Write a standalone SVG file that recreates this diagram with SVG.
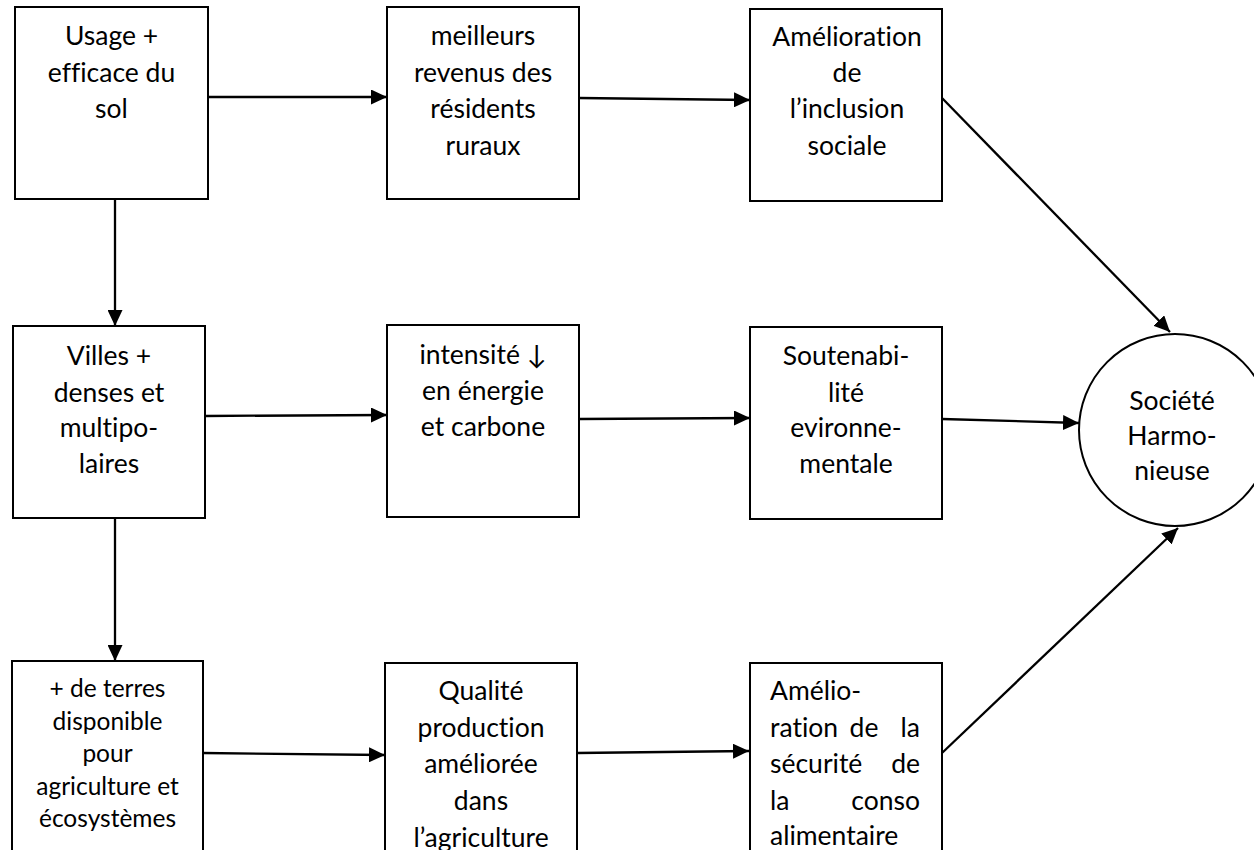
<svg xmlns="http://www.w3.org/2000/svg" width="1254" height="850" viewBox="0 0 1254 850">
<defs>
<marker id="ah" markerUnits="userSpaceOnUse" markerWidth="17" markerHeight="15" refX="16" refY="7.5" orient="auto">
<path d="M0,0 L16,7.5 L0,15 Z" fill="#000"/>
</marker>
<style>
.box{fill:#fff;stroke:#000;stroke-width:2}
.t{font-family:Lato,"Liberation Sans",sans-serif;font-size:26.5px;fill:#000;text-anchor:middle;font-variant-ligatures:none}
.s{font-size:24.5px}
.l{text-anchor:start}
.r{text-anchor:end}
.c{stroke:#000;stroke-width:2.3;fill:none;marker-end:url(#ah)}
</style>
</defs>
<rect width="1254" height="850" fill="#fff"/>
<g id="connectors">
<line class="c" x1="208" y1="97" x2="387" y2="97"/>
<line class="c" x1="579" y1="98" x2="750" y2="100"/>
<line class="c" x1="942" y1="98" x2="1170" y2="332"/>
<line class="c" x1="115" y1="199" x2="115" y2="326"/>
<line class="c" x1="205" y1="416" x2="387" y2="415"/>
<line class="c" x1="579" y1="419" x2="750" y2="418"/>
<line class="c" x1="942" y1="419" x2="1079" y2="423"/>
<line class="c" x1="115" y1="518" x2="115" y2="661"/>
<line class="c" x1="203" y1="753" x2="385" y2="755"/>
<line class="c" x1="577" y1="753" x2="749" y2="751"/>
<line class="c" x1="942" y1="753" x2="1178" y2="528"/>
</g>
<g id="n1">
<rect class="box" x="15" y="7" width="193" height="192"/>
<text class="t" x="111.5" y="45">Usage +</text>
<text class="t" x="111.5" y="82">efficace du</text>
<text class="t" x="111.5" y="118">sol</text>
</g>
<g id="n2">
<rect class="box" x="387" y="7" width="192" height="192"/>
<text class="t" x="483" y="45">meilleurs</text>
<text class="t" x="483" y="82">revenus des</text>
<text class="t" x="483" y="118">résidents</text>
<text class="t" x="483" y="155">ruraux</text>
</g>
<g id="n3">
<rect class="box" x="750" y="9" width="192" height="192"/>
<text class="t" x="847" y="46">Amélioration</text>
<text class="t" x="847" y="82">de</text>
<text class="t" x="847" y="118">l’inclusion</text>
<text class="t" x="847" y="155">sociale</text>
</g>
<g id="n4">
<rect class="box" x="13" y="326" width="192" height="192"/>
<text class="t" x="109" y="365">Villes +</text>
<text class="t" x="109" y="402">denses et</text>
<text class="t" x="109" y="437">multipo-</text>
<text class="t" x="109" y="473">laires</text>
</g>
<g id="n5">
<rect class="box" x="387" y="325" width="192" height="192"/>
<text class="t" x="483" y="364">intensité ↓</text>
<text class="t" x="483" y="400">en énergie</text>
<text class="t" x="483" y="436">et carbone</text>
</g>
<g id="n6">
<rect class="box" x="750" y="327" width="192" height="192"/>
<text class="t" x="846" y="365">Soutenabi-</text>
<text class="t" x="846" y="402">lité</text>
<text class="t" x="846" y="437">evironne-</text>
<text class="t" x="846" y="473">mentale</text>
</g>
<g id="n7">
<rect class="box" x="12" y="661" width="191" height="200"/>
<text class="t s" x="107.5" y="697">+ de terres</text>
<text class="t s" x="107.5" y="730">disponible</text>
<text class="t s" x="107.5" y="762">pour</text>
<text class="t s" x="107.5" y="795">agriculture et</text>
<text class="t s" x="107.5" y="827">écosystèmes</text>
</g>
<g id="n8">
<rect class="box" x="385" y="663" width="192" height="200"/>
<text class="t" x="481" y="700">Qualité</text>
<text class="t" x="481" y="737">production</text>
<text class="t" x="481" y="773">améliorée</text>
<text class="t" x="481" y="810">dans</text>
<text class="t" x="481" y="847">l’agriculture</text>
</g>
<g id="n9">
<rect class="box" x="750" y="663" width="192" height="200"/>
<text class="t l" x="770" y="700">Amélio-</text>
<text class="t l" x="770" y="737">ration</text>
<text class="t" x="864" y="737">de</text>
<text class="t r" x="920" y="737">la</text>
<text class="t l" x="770" y="773">sécurité</text>
<text class="t r" x="920" y="773">de</text>
<text class="t l" x="770" y="810">la</text>
<text class="t r" x="920" y="810">conso</text>
<text class="t l" x="770" y="845">alimentaire</text>
</g>
<g id="n10">
<circle class="box" cx="1175" cy="430" r="96"/>
<text class="t" x="1172" y="410">Société</text>
<text class="t" x="1172" y="445">Harmo-</text>
<text class="t" x="1172" y="480">nieuse</text>
</g>
</svg>
